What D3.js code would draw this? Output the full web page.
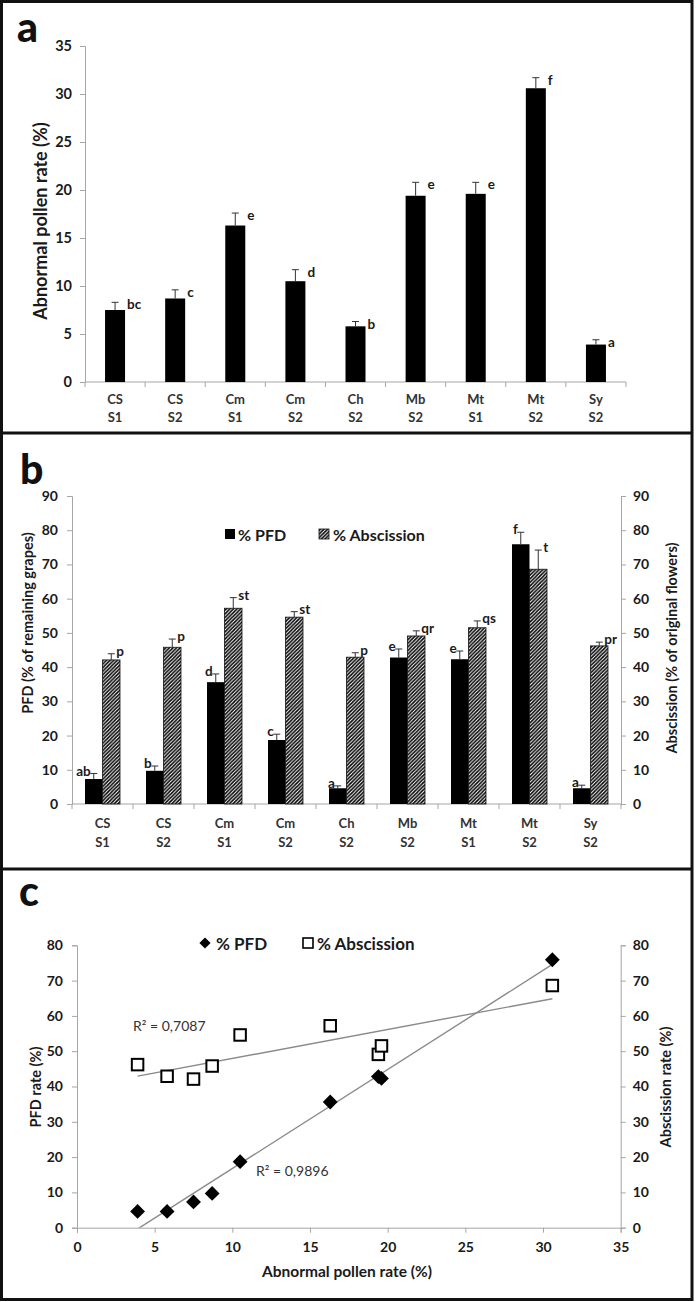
<!DOCTYPE html>
<html><head><meta charset="utf-8">
<script src="https://cdn.jsdelivr.net/npm/d3@7"></script>
<style>
html,body{margin:0;padding:0;background:#fff;}
svg text{font-family:Lato,"Open Sans",sans-serif;}
</style></head>
<body>
<svg id="chart" width="696" height="1302"></svg>
<script>
// ---------- data ----------
const cultivars = ["CS","CS","Cm","Cm","Ch","Mb","Mt","Mt","Sy"];
const sites     = ["S1","S2","S1","S2","S2","S2","S1","S2","S2"];
const pollen        = [7.5, 8.7, 16.3, 10.5, 5.8, 19.4, 19.6, 30.6, 3.9];
const pollenErr     = [0.8, 0.9, 1.3, 1.2, 0.5, 1.4, 1.2, 1.1, 0.5];
const pollenLetters = ["bc","c","e","d","b","e","e","f","a"];
const pfd        = [7.3, 9.7, 35.6, 18.7, 4.6, 42.8, 42.3, 75.9, 4.6];
const pfdErr     = [1.6, 1.4, 2.4, 1.7, 0.7, 2.5, 2.4, 3.5, 0.9];
const pfdLetters = ["ab","b","d","c","a","e","e","f","a"];
const absc        = [42.1, 45.8, 57.2, 54.6, 42.9, 49.1, 51.5, 68.6, 46.2];
const abscErr     = [1.8, 2.4, 3.1, 1.6, 1.3, 1.5, 2.0, 5.6, 1.1];
const abscLetters = ["p","p","st","st","p","qr","qs","t","pr"];
const ticksA = [0,5,10,15,20,25,30,35];
const ticksB = [0,10,20,30,40,50,60,70,80,90];
const ticksCy = [0,10,20,30,40,50,60,70,80];
const ticksCx = [0,5,10,15,20,25,30,35];
const r2Labels = ["R² = 0,9896","R² = 0,7087"];
const legendB = ["% PFD","% Abscission"];
const legendC = ["% PFD","% Abscission"];

const idx = d3.range(cultivars.length);
const svg = d3.select("#chart");
const AX = "#a6a6a6", TXT = "#1a1a1a";

// hatch pattern
const defs = svg.append("defs");
const pat = defs.append("pattern").attr("id","hatch").attr("patternUnits","userSpaceOnUse")
  .attr("width",3.6).attr("height",3.6);
pat.append("rect").attr("width",3.6).attr("height",3.6).attr("fill","#fff");
pat.append("path").attr("d","M-0.9,0.9 L0.9,-0.9 M0,3.6 L3.6,0 M2.7,4.5 L4.5,2.7")
  .attr("stroke","#000").attr("stroke-width",1.5);

// frame
svg.append("rect").attr("x",1.5).attr("y",1.5).attr("width",690.5).attr("height",1298)
  .attr("fill","none").attr("stroke","#111").attr("stroke-width",3);
[433,869].forEach(y=>svg.append("line").attr("x1",1.5).attr("x2",692).attr("y1",y).attr("y2",y)
  .attr("stroke","#111").attr("stroke-width",3));

function styleAxis(g, fs){
  g.select(".domain").attr("stroke",AX);
  g.selectAll(".tick line").attr("stroke",AX);
  g.selectAll(".tick text").attr("fill",TXT).attr("font-weight","bold").attr("font-size",fs)
   .style("font-family","Lato, sans-serif");
}
function panelLetter(t,x,y){
  svg.append("text").attr("x",x).attr("y",y).text(t).attr("font-size",41)
    .attr("font-weight",900).attr("fill","#111");
}
function catLabels(x, y1, y2){
  idx.forEach(i=>{
    const cx = x(i)+x.bandwidth()/2;
    svg.append("text").attr("x",cx).attr("y",y1).attr("text-anchor","middle").attr("dominant-baseline","central")
      .attr("font-size",13).attr("font-weight","bold").attr("fill","#333").text(cultivars[i]);
    svg.append("text").attr("x",cx).attr("y",y2).attr("text-anchor","middle").attr("dominant-baseline","central")
      .attr("font-size",13).attr("font-weight","bold").attr("fill","#333").text(sites[i]);
  });
}
function catAxis(x, y0){
  svg.append("line").attr("x1",x.range()[0]).attr("x2",x.range()[1]).attr("y1",y0).attr("y2",y0).attr("stroke",AX);
  const bounds = idx.map(i=>x(i)).concat([x.range()[1]]);
  bounds.forEach(b=>svg.append("line").attr("x1",b).attr("x2",b).attr("y1",y0).attr("y2",y0+5).attr("stroke",AX));
}
function errBar(cx, yTop, yBase){
  svg.append("line").attr("x1",cx).attr("x2",cx).attr("y1",yBase).attr("y2",yTop).attr("stroke","#333").attr("stroke-width",1);
  svg.append("line").attr("x1",cx-3.5).attr("x2",cx+3.5).attr("y1",yTop).attr("y2",yTop).attr("stroke","#333").attr("stroke-width",1);
}

// ---------- Panel a ----------
{
  const x = d3.scaleBand().domain(idx).range([85,626]).padding(0);
  const y = d3.scaleLinear().domain([0,35]).range([382,46]);
  const g = svg.append("g").attr("transform","translate(85,0)")
    .call(d3.axisLeft(y).tickValues(ticksA).tickSize(5).tickPadding(8));
  styleAxis(g,14.5);
  catAxis(x, y(0));
  const bw = 20;
  idx.forEach(i=>{
    const cx = x(i)+x.bandwidth()/2;
    svg.append("rect").attr("x",cx-bw/2).attr("y",y(pollen[i])).attr("width",bw)
      .attr("height",y(0)-y(pollen[i])).attr("fill","#000");
    const et = y(pollen[i]+pollenErr[i]);
    errBar(cx, et, y(pollen[i]));
    svg.append("text").attr("x",cx+bw/2+2).attr("y",et+7).attr("font-size",13.5)
      .attr("font-weight","bold").attr("fill",TXT).text(pollenLetters[i]);
  });
  catLabels(x, 399, 417);
  svg.append("text").attr("transform","translate(40,221) rotate(-90)").attr("text-anchor","middle")
    .attr("dominant-baseline","central").attr("font-size",18).attr("font-weight","bold").attr("fill",TXT)
    .text("Abnormal pollen rate (%)");
  panelLetter("a",17,42);
}

// ---------- Panel b ----------
{
  const x = d3.scaleBand().domain(idx).range([72,621]).padding(0);
  const y = d3.scaleLinear().domain([0,90]).range([804,496]);
  const gl = svg.append("g").attr("transform","translate(72,0)")
    .call(d3.axisLeft(y).tickValues(ticksB).tickSize(5).tickPadding(9));
  styleAxis(gl,14);
  const gr = svg.append("g").attr("transform","translate(621,0)")
    .call(d3.axisRight(y).tickValues(ticksB).tickSize(5).tickPadding(7));
  styleAxis(gr,14);
  catAxis(x, y(0));
  const bw = 17.5;
  idx.forEach(i=>{
    const cx = x(i)+x.bandwidth()/2;
    // PFD
    svg.append("rect").attr("x",cx-bw).attr("y",y(pfd[i])).attr("width",bw)
      .attr("height",y(0)-y(pfd[i])).attr("fill","#000");
    const e1 = y(pfd[i]+pfdErr[i]);
    errBar(cx-bw/2, e1, y(pfd[i]));
    svg.append("text").attr("x",cx-bw/2-3).attr("y",e1+2).attr("text-anchor","end").attr("font-size",13.5)
      .attr("font-weight","bold").attr("fill",TXT).text(pfdLetters[i]);
    // Abscission
    svg.append("rect").attr("x",cx).attr("y",y(absc[i])).attr("width",bw)
      .attr("height",y(0)-y(absc[i])).attr("fill","url(#hatch)").attr("stroke","#111").attr("stroke-width",0.8);
    const e2 = y(absc[i]+abscErr[i]);
    errBar(cx+bw/2, e2, y(absc[i]));
    svg.append("text").attr("x",cx+bw/2+5).attr("y",e2+2).attr("font-size",13.5)
      .attr("font-weight","bold").attr("fill",TXT).text(abscLetters[i]);
  });
  catLabels(x, 823, 842);
  svg.append("text").attr("transform","translate(27,623) rotate(-90)").attr("text-anchor","middle")
    .attr("dominant-baseline","central").attr("font-size",14.5).attr("font-weight","bold").attr("fill",TXT)
    .text("PFD (% of remaining grapes)");
  svg.append("text").attr("transform","translate(671,648) rotate(-90)").attr("text-anchor","middle")
    .attr("dominant-baseline","central").attr("font-size",14.5).attr("font-weight","bold").attr("fill",TXT)
    .text("Abscission (% of original flowers)");
  // legend
  svg.append("rect").attr("x",225).attr("y",529).attr("width",10).attr("height",10).attr("fill","#000");
  svg.append("text").attr("x",238).attr("y",534).attr("dominant-baseline","central").attr("font-size",16)
    .attr("font-weight","bold").attr("fill",TXT).text(legendB[0]);
  svg.append("rect").attr("x",319).attr("y",529).attr("width",10).attr("height",10).attr("fill","url(#hatch)")
    .attr("stroke","#111").attr("stroke-width",0.8);
  svg.append("text").attr("x",333).attr("y",534).attr("dominant-baseline","central").attr("font-size",16)
    .attr("font-weight","bold").attr("fill",TXT).text(legendB[1]);
  panelLetter("b",20,484);
}

// ---------- Panel c ----------
{
  const x = d3.scaleLinear().domain([0,35]).range([77,620.7]);
  const y = d3.scaleLinear().domain([0,80]).range([1227.7,945.3]);
  const gx = svg.append("g").attr("transform",`translate(0,${y(0)})`)
    .call(d3.axisBottom(x).tickValues(ticksCx).tickSize(5).tickPadding(9));
  styleAxis(gx,14);
  const gl = svg.append("g").attr("transform","translate(77,0)")
    .call(d3.axisLeft(y).tickValues(ticksCy).tickSize(5).tickPadding(9));
  styleAxis(gl,14);
  const gr = svg.append("g").attr("transform","translate(620.7,0)")
    .call(d3.axisRight(y).tickValues(ticksCy).tickSize(5).tickPadding(7));
  styleAxis(gr,14);

  defs.append("clipPath").attr("id","clipC").append("rect")
    .attr("x",77).attr("y",945).attr("width",543.7).attr("height",y(0)-945);

  function fit(xs, ys){
    const mx = d3.mean(xs), my = d3.mean(ys);
    const b = d3.sum(xs.map((v,i)=>(v-mx)*(ys[i]-my))) / d3.sum(xs.map(v=>(v-mx)*(v-mx)));
    return {a: my-b*mx, b};
  }
  const x0 = d3.min(pollen), x1 = d3.max(pollen);
  [[pfd],[absc]].forEach(([ys])=>{
    const f = fit(pollen, ys);
    svg.append("line").attr("clip-path","url(#clipC)")
      .attr("x1",x(x0)).attr("y1",y(f.a+f.b*x0)).attr("x2",x(x1)).attr("y2",y(f.a+f.b*x1))
      .attr("stroke","#8a8a8a").attr("stroke-width",1.4);
  });
  const sq = 11.5;
  idx.forEach(i=>{
    svg.append("rect").attr("x",x(pollen[i])-sq/2).attr("y",y(absc[i])-sq/2).attr("width",sq).attr("height",sq)
      .attr("fill","#fff").attr("stroke","#000").attr("stroke-width",2);
  });
  const diamond = d3.symbol().type(d3.symbolDiamond2).size(140);
  idx.forEach(i=>{
    svg.append("path").attr("d",diamond).attr("transform",`translate(${x(pollen[i])},${y(pfd[i])})`).attr("fill","#000");
  });
  svg.append("text").attr("x",133).attr("y",1025).attr("dominant-baseline","central").attr("font-size",14)
    .attr("fill","#333").text(r2Labels[1]);
  svg.append("text").attr("x",256).attr("y",1170).attr("dominant-baseline","central").attr("font-size",14)
    .attr("fill","#333").text(r2Labels[0]);
  svg.append("text").attr("x",347).attr("y",1271).attr("text-anchor","middle").attr("dominant-baseline","central")
    .attr("font-size",15.5).attr("font-weight","bold").attr("fill",TXT).text("Abnormal pollen rate (%)");
  svg.append("text").attr("transform","translate(35,1087) rotate(-90)").attr("text-anchor","middle")
    .attr("dominant-baseline","central").attr("font-size",14.5).attr("font-weight","bold").attr("fill",TXT)
    .text("PFD rate (%)");
  svg.append("text").attr("transform","translate(665,1087) rotate(-90)").attr("text-anchor","middle")
    .attr("dominant-baseline","central").attr("font-size",14.5).attr("font-weight","bold").attr("fill",TXT)
    .text("Abscission rate (%)");
  // legend
  svg.append("path").attr("d",d3.symbol().type(d3.symbolDiamond2).size(80)).attr("transform","translate(205,943)").attr("fill","#000");
  svg.append("text").attr("x",216).attr("y",943).attr("dominant-baseline","central").attr("font-size",17)
    .attr("font-weight","bold").attr("fill",TXT).text(legendC[0]);
  svg.append("rect").attr("x",303).attr("y",938).attr("width",10).attr("height",10).attr("fill","#fff")
    .attr("stroke","#000").attr("stroke-width",1.6);
  svg.append("text").attr("x",317).attr("y",943).attr("dominant-baseline","central").attr("font-size",17)
    .attr("font-weight","bold").attr("fill",TXT).text(legendC[1]);
  panelLetter("c",19,906);
}
</script>
</body></html>
